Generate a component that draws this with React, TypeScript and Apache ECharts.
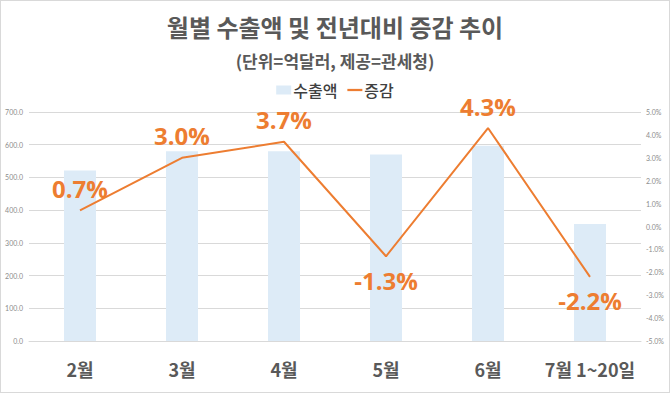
import React, { useEffect, useRef } from "react";
import * as echarts from "echarts";

const categories = ["2월", "3월", "4월", "5월", "6월", "7월 1~20일"];
const exportValues = [521, 580, 580, 570, 597, 358];
const changeValues = [0.7, 3.0, 3.7, -1.3, 4.3, -2.2];
const leftTicks = [0, 700, 100];
const rightTicks = [-5, 5, 1];

const labelPositions = ["top", "top", "top", "bottom", "top", "bottom"];

export default function App() {
  const ref = useRef<HTMLDivElement>(null);
  useEffect(() => {
    if (!ref.current) return;
    const chart = echarts.init(ref.current, null, { renderer: "svg" });
    const kr = '"Noto Sans CJK KR", "Noto Sans", sans-serif';
    chart.setOption({
      animation: false,
      backgroundColor: "#ffffff",
      title: [
        {
          text: "월별 수출액 및 전년대비 증감 추이",
          left: "center",
          top: 8,
          textStyle: { fontFamily: kr, fontSize: 24, fontWeight: "bold", color: "#595959" },
        },
        {
          text: "(단위=억달러, 제공=관세청)",
          left: "center",
          top: 46,
          textStyle: { fontFamily: kr, fontSize: 17, fontWeight: "bold", color: "#595959" },
        },
      ],
      legend: {
        top: 76,
        left: "center",
        itemGap: 10,
        itemWidth: 15,
        itemHeight: 9,
        textStyle: { fontFamily: kr, fontSize: 16, fontWeight: 500, color: "#404040", padding: [0, 0, 0, -3] },
        data: [
          { name: "수출액", icon: "rect" },
          { name: "증감", icon: "path://M0,0 L20,0 L20,3 L0,3 Z" },
        ],
      },
      grid: { left: 28, right: 28, top: 111, bottom: 51 },
      xAxis: {
        type: "category",
        data: categories,
        axisLine: { lineStyle: { color: "#d9d9d9" } },
        axisTick: { show: false },
        axisLabel: {
          interval: 0,
          fontFamily: kr,
          fontSize: 18,
          fontWeight: "bold",
          color: "#595959",
          margin: 19,
        },
      },
      yAxis: [
        {
          type: "value",
          min: leftTicks[0],
          max: leftTicks[1],
          interval: leftTicks[2],
          axisLine: { show: false },
          axisTick: { show: false },
          splitLine: { lineStyle: { color: "#d9d9d9" } },
          axisLabel: {
            formatter: (v: number) => v.toFixed(1),
            fontFamily: "Lato, sans-serif",
            fontSize: 7,
            color: "#8c8c8c",
            margin: 6,
          },
        },
        {
          type: "value",
          min: rightTicks[0],
          max: rightTicks[1],
          interval: rightTicks[2],
          axisLine: { show: false },
          axisTick: { show: false },
          splitLine: { show: false },
          axisLabel: {
            formatter: (v: number) => v.toFixed(1) + "%",
            fontFamily: "Lato, sans-serif",
            fontSize: 7,
            color: "#8c8c8c",
            margin: 5,
          },
        },
      ],
      series: [
        {
          name: "수출액",
          type: "bar",
          data: exportValues,
          barWidth: 32,
          itemStyle: { color: "#DDEBF7" },
        },
        {
          name: "증감",
          type: "line",
          yAxisIndex: 1,
          data: changeValues.map((v, i) => ({
            value: v,
            label: {
              show: true,
              position: labelPositions[i],
              distance: i === 3 || i === 5 ? 12 : 10,
            },
          })),
          symbol: "circle",
          symbolSize: 0,
          showSymbol: true,
          lineStyle: { color: "#ED7D31", width: 2 },
          itemStyle: { color: "#ED7D31" },
          label: {
            show: true,
            formatter: (p: any) => Number(p.value).toFixed(1) + "%",
            fontFamily: '"Open Sans", "Noto Sans", sans-serif',
            fontSize: 24,
            fontWeight: "bold",
            color: "#ED7D31",
          },
          labelLayout: { hideOverlap: false },
        },
      ],
    });
    return () => chart.dispose();
  }, []);
  return (
    <div
      ref={ref}
      style={{
        position: "absolute",
        left: 0,
        top: 0,
        width: 670,
        height: 393,
        boxSizing: "border-box",
        border: "1px solid #d9d9d9",
      }}
    />
  );
}
